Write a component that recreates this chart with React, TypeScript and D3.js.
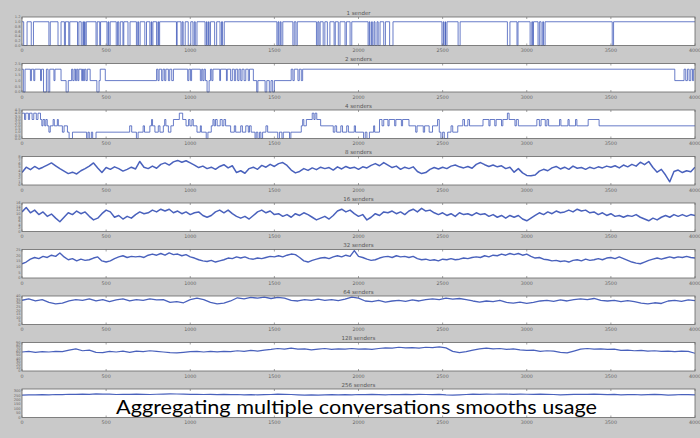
import React from "react";
import * as d3 from "d3";

const TITLES = ["1 sender", "2 senders", "4 senders", "8 senders", "16 senders", "32 senders", "64 senders", "128 senders", "256 senders"];
const X_TICKS = [0, 500, 1000, 1500, 2000, 2500, 3000, 3500, 4000];
const Y_MAX = [1.2, 2.5, 4.5, 8, 16, 25, 40, 90, 320];
const Y_STEP = [0.2, 0.5, 0.5, 1, 2, 5, 5, 10, 50];
const CAPTION = "Aggregating multiple conversations smooths usage";

// 1 sender: baseline 1, brief drops to 0 (intervals in time units)
const ONE_SENDER_DIPS = [
  [10, 30], [55, 68], [160, 168], [214, 232], [252, 258], [278, 284], [330, 338], [352, 362], [366, 372], [375, 382],
  [440, 447], [462, 467], [505, 512], [516, 524], [560, 568], [575, 584], [600, 605], [630, 642], [680, 688], [693, 702],
  [730, 740], [760, 768], [771, 778], [800, 808], [812, 818], [918, 922], [945, 952], [958, 970], [988, 1003], [1016, 1024],
  [1030, 1040], [1088, 1096], [1100, 1108], [1112, 1120], [1145, 1157], [1177, 1186], [1192, 1202], [1515, 1522], [1527, 1535],
  [1540, 1550], [1610, 1618], [1628, 1636], [1750, 1758], [1765, 1772], [1790, 1800], [1815, 1830], [1855, 1862], [1880, 1890],
  [1920, 1928], [1950, 1960], [2057, 2064], [2068, 2078], [2082, 2092], [2098, 2110], [2117, 2128], [2150, 2160], [2185, 2205],
  [2496, 2504], [2508, 2516], [2518, 2526], [2592, 2604], [2885, 2900], [2942, 2948], [3020, 3030], [3035, 3040], [3067, 3075],
  [3085, 3095], [3100, 3109], [3508, 3516],
];

// 2 senders: [time, level] change points
const TWO_SENDERS_STEPS = [
  [0, 2], [8, 0], [18, 2], [50, 1], [56, 2], [70, 1], [76, 2], [110, 1], [116, 2], [128, 0], [145, 2], [155, 0], [165, 2],
  [190, 1], [196, 2], [232, 1], [262, 0], [275, 1], [295, 2], [302, 1], [310, 2], [318, 1], [325, 2], [332, 1], [338, 2],
  [355, 1], [360, 2], [365, 1], [372, 2], [380, 1], [388, 2], [405, 1], [445, 0], [458, 1], [465, 2], [495, 1], [800, 2],
  [808, 1], [815, 2], [830, 1], [838, 2], [848, 1], [855, 2], [870, 1], [878, 2], [890, 1], [900, 2], [985, 1], [992, 2],
  [1002, 1], [1008, 2], [1060, 1], [1068, 2], [1075, 1], [1082, 2], [1090, 1], [1100, 0], [1112, 1], [1120, 2], [1128, 1],
  [1135, 2], [1175, 1], [1180, 2], [1215, 1], [1220, 2], [1240, 1], [1250, 2], [1262, 1], [1270, 2], [1282, 1], [1290, 2],
  [1300, 1], [1308, 2], [1320, 1], [1330, 2], [1345, 1], [1352, 2], [1375, 1], [1395, 0], [1402, 1], [1445, 0], [1455, 1],
  [1470, 0], [1480, 1], [1490, 0], [1500, 1], [1600, 2], [1610, 1], [1618, 2], [1640, 1], [1648, 2], [1660, 1], [1668, 2],
  [3880, 1], [3935, 2], [3945, 1], [3955, 2], [3965, 1], [3975, 2], [3985, 1], [3992, 2],
];

// 4 senders: [time, level] change points
const FOUR_SENDERS_STEPS = [
  [0, 4], [15, 3], [22, 4], [38, 3], [45, 4], [60, 3], [70, 4], [85, 3], [95, 4], [110, 3], [118, 2], [125, 3], [135, 2],
  [142, 3], [150, 2], [160, 1], [168, 2], [185, 3], [192, 2], [210, 3], [216, 2], [240, 1], [250, 2], [270, 1], [280, 0],
  [300, 1], [384, 0], [392, 1], [400, 0], [412, 1], [420, 0], [440, 1], [640, 2], [652, 1], [680, 0], [690, 1], [720, 2],
  [728, 1], [760, 2], [770, 3], [776, 2], [790, 1], [810, 2], [820, 1], [840, 2], [848, 3], [855, 2], [870, 1], [885, 2],
  [900, 3], [935, 4], [955, 3], [975, 2], [990, 3], [998, 2], [1010, 3], [1018, 2], [1040, 1], [1060, 2], [1066, 1],
  [1095, 0], [1105, 1], [1125, 2], [1135, 3], [1142, 2], [1150, 3], [1160, 2], [1178, 3], [1190, 2], [1200, 3], [1210, 2],
  [1240, 1], [1262, 2], [1270, 1], [1300, 2], [1310, 1], [1330, 2], [1345, 1], [1352, 2], [1362, 1], [1385, 0], [1392, 1],
  [1402, 0], [1412, 1], [1420, 0], [1430, 1], [1450, 2], [1460, 1], [1520, 0], [1530, 1], [1545, 0], [1553, 1], [1590, 0],
  [1598, 1], [1660, 2], [1668, 3], [1675, 2], [1690, 3], [1725, 4], [1735, 3], [1742, 4], [1752, 3], [1775, 2], [1850, 1],
  [1860, 2], [1870, 1], [1895, 2], [1905, 1], [1930, 2], [1940, 1], [1975, 2], [1982, 1], [2030, 0], [2040, 1], [2050, 0],
  [2065, 1], [2090, 2], [2096, 1], [2125, 3], [2140, 2], [2150, 3], [2175, 2], [2182, 3], [2215, 2], [2222, 3], [2255, 2],
  [2262, 3], [2300, 2], [2340, 1], [2348, 2], [2385, 1], [2393, 2], [2420, 1], [2440, 2], [2470, 3], [2480, 1], [2490, 0],
  [2500, 1], [2510, 0], [2530, 1], [2550, 2], [2560, 1], [2590, 2], [2620, 3], [2630, 2], [2650, 3], [2660, 2], [2740, 3],
  [2775, 2], [2782, 3], [2810, 2], [2818, 3], [2850, 2], [2858, 3], [2885, 4], [2895, 3], [2930, 2], [2938, 3], [2950, 2],
  [3060, 3], [3075, 2], [3085, 3], [3110, 2], [3120, 3], [3130, 2], [3195, 3], [3203, 2], [3245, 3], [3252, 2], [3290, 3],
  [3298, 2], [3365, 3], [3430, 2],
];

// sampled every 25 time units
const EIGHT_SENDERS = [
  3.5, 5.0, 4.3, 5.2, 4.5, 5.0, 5.6, 6.2, 5.4, 4.6, 3.9, 3.2, 3.6, 3.1, 4.0, 4.6, 5.3, 6.2, 4.8, 3.5,
  4.9, 4.4, 5.1, 4.6, 3.9, 4.4, 5.0, 4.5, 6.6, 5.0, 4.6, 5.3, 4.7, 5.8, 6.2, 5.6, 6.5, 6.9, 6.4, 6.8,
  6.2, 5.6, 4.9, 5.3, 4.6, 5.0, 4.4, 5.2, 5.7, 4.8, 5.4, 3.5, 4.0, 3.3, 4.6, 5.0, 4.4, 5.5, 5.0, 5.8,
  5.2, 6.0, 6.3, 5.5, 4.2, 3.4, 3.8, 4.6, 4.1, 4.8, 4.3, 5.0, 4.6, 4.9, 4.2, 5.1, 4.5, 5.2, 4.7, 5.0,
  4.4, 5.1, 4.8, 5.5, 6.0, 5.4, 6.3, 5.6, 4.9, 5.3, 4.4, 5.0, 4.6, 5.1, 3.8, 3.2, 3.5, 4.4, 4.9, 4.5,
  5.0, 4.6, 5.3, 5.6, 5.1, 4.8, 5.2, 4.7, 5.8, 6.3, 5.7, 5.2, 5.6, 5.1, 5.4, 4.6, 5.0, 3.6, 4.6, 3.4,
  2.7, 2.6, 2.8, 3.9, 4.4, 4.0, 4.8, 5.2, 4.5, 5.0, 4.4, 5.3, 4.7, 4.9, 4.4, 5.0, 4.6, 5.1, 4.8, 5.3,
  5.0, 5.4, 4.8, 5.6, 5.1, 5.8, 5.3, 6.4, 5.7, 6.6, 4.9, 3.6, 4.4, 2.8, 0.9, 3.8, 4.2, 3.5, 4.0, 3.7, 5.0,
];

const SIXTEEN_SENDERS = [
  11, 13.5, 10.5, 12, 9.5, 11, 8.5, 9.8, 7.5, 5.5, 8, 10.5, 9.5, 11.5, 10, 11, 8.5, 6.5, 7.5, 10,
  12, 11, 8, 9, 7, 8.5, 7.5, 9.5, 11, 10, 10.5, 12, 11, 12.5, 11.5, 12.5, 10.5, 11.5, 10, 11,
  9.5, 10.5, 11, 9, 8, 9, 11, 12, 10.5, 12, 10, 8.5, 7.5, 8.5, 7, 9, 11, 12, 10.5, 11.5,
  9.5, 10, 8.5, 9.5, 8, 10, 9, 10.5, 9.5, 8, 6.5, 7.5, 8.5, 7, 9, 11.5, 12.5, 11, 12, 10,
  8.5, 9.5, 6.5, 8, 10, 9, 11, 10.5, 11.5, 10, 11, 9.5, 11.5, 12.5, 11, 13, 11.5, 12, 10.5, 9.5,
  10.5, 9, 10, 8.5, 10.5, 9.5, 10, 9, 10.5, 9.5, 10, 8.5, 9.5, 8, 9, 7.5, 9, 8, 9, 7,
  6, 7.5, 9, 10.5, 9.5, 11, 10, 11.5, 10.5, 11, 12, 11, 12.5, 11.5, 12, 10.5, 11, 9.5, 10.5, 9,
  10, 8.5, 9, 8, 9, 8.5, 9.5, 8, 7, 6, 7.5, 6.5, 8, 9, 8, 9.5, 8.5, 9.5, 8.5, 9.5, 9,
];

const THIRTY_TWO_SENDERS = [
  12.5, 14, 16.5, 18, 17, 19, 18, 20, 19, 22, 18.5, 16, 17, 15, 16.5, 15.5, 16, 17.5, 18.5, 15,
  14, 15, 17, 18.5, 19.5, 18, 19, 18.5, 19, 18, 20, 21, 20, 21.5, 20, 22, 20.5, 21, 19.5, 20.5,
  18.5, 17.5, 16, 15, 14.5, 15.5, 14, 15, 16, 17.5, 17, 18.5, 17.5, 18.5, 17, 16.5, 17.5, 17, 18, 19,
  18.5, 19.5, 18.5, 20, 21, 20.5, 18, 15, 14, 15.5, 16.5, 17.5, 18, 17, 18.5, 19.5, 18.5, 20, 19, 24,
  19, 18, 16.5, 15.5, 16, 17.5, 18.5, 19, 18, 19.5, 18.5, 19, 18, 19, 17, 16, 16.5, 15.5, 16, 15,
  16.5, 16, 17, 16, 16.5, 17.5, 17, 18, 18.5, 18, 19.5, 18.5, 20, 19.5, 21, 20, 21.5, 20.5, 21.5, 20,
  21, 19, 17.5, 18, 16.5, 16, 15, 15.5, 14.5, 15, 14, 15.5, 16, 15, 16.5, 15.5, 16, 17, 16, 17.5,
  18, 17, 18.5, 17, 15.5, 14, 13, 12.5, 14, 15.5, 16.5, 17.5, 16.5, 17.5, 18.5, 17.5, 18.5, 18, 19, 18, 17.5,
];

// sampled every 40 time units
const SIXTY_FOUR_SENDERS = [
  34, 36, 33, 35, 31, 29, 30, 33, 35, 34, 36, 33, 35, 32, 34.5, 36, 33, 35, 34, 36,
  34.5, 35, 31, 32, 30.5, 35, 37, 35, 31, 29, 30, 33, 37.5, 36, 38, 37, 38.5, 36.5, 38, 37,
  34, 33, 35, 34, 35.5, 34, 35, 33.5, 35.5, 38.5, 37, 33, 32, 34, 31.5, 33, 34, 32.5, 34.5, 33,
  35, 36, 35, 37, 35.5, 36.5, 35, 33, 31.5, 33, 32, 34, 31, 30, 31.5, 29.5, 31, 33, 34, 32.5,
  34.5, 33, 35, 36, 35, 36.5, 34, 33, 34, 32, 33.5, 32, 30, 29, 30.5, 29.5, 33, 34, 32.5, 34.5, 33.5,
];

const ONE_TWENTY_EIGHT_SENDERS = [
  60, 62, 59, 61, 60, 62, 61, 66, 70, 64, 66, 59, 58, 62, 60, 63, 59, 63, 61, 64,
  62, 60, 58, 57, 59, 61, 62, 60, 62, 60.5, 62, 61, 64, 62, 65, 63, 66, 68, 71, 69,
  72, 69, 70, 67, 69, 71, 68, 70, 69, 71, 69, 70, 68, 71, 73, 72, 75, 73, 74, 72,
  75, 74, 76, 73, 62, 58, 61, 66, 70, 72, 70, 71, 68, 70, 67, 65, 66, 62, 64, 63,
  59, 57, 63, 69, 71, 69, 70, 68, 69, 65, 66, 64, 65, 63, 64, 62, 63, 61, 63, 62, 56,
];

const TWO_FIFTY_SIX_SENDERS = [
  252, 255, 253, 256, 255, 258, 257, 261, 259, 262, 260, 266, 263, 262, 258, 261, 259, 262, 260, 258,
  261, 263, 266, 264, 262, 259, 261, 258, 260, 257, 259, 256, 258, 255, 257, 254, 256, 258, 262, 260,
  258, 255, 252, 254, 251, 253, 256, 254, 257, 255, 258, 256, 259, 257, 255, 258, 256, 259, 257, 260,
  258, 256, 259, 253, 251, 255, 258, 262, 260, 263, 261, 264, 262, 260, 263, 261, 259, 262, 260, 258,
  255, 257, 259, 261, 259, 262, 260, 257, 259, 254, 256, 258, 255, 257, 259, 256, 252, 255, 258, 256, 254,
];

const T_MAX = 4000;

function stepsToPoints(steps: number[][]): [number, number][] {
  const pts: [number, number][] = steps.map((s) => [s[0], s[1]] as [number, number]);
  pts.push([T_MAX, steps[steps.length - 1][1]]);
  return pts;
}

function dipsToPoints(dips: number[][]): [number, number][] {
  const pts: [number, number][] = [[0, 1]];
  dips.forEach(([a, b]) => {
    pts.push([a, 0]);
    pts.push([b, 1]);
  });
  pts.push([T_MAX, 1]);
  return pts;
}

function sampled(values: number[]): [number, number][] {
  const n = values.length;
  return values.map((v, i) => [(i * T_MAX) / (n - 1), v] as [number, number]);
}

const SERIES: { pts: [number, number][]; step: boolean; width: number }[] = [
  { pts: dipsToPoints(ONE_SENDER_DIPS), step: true, width: 1.0 },
  { pts: stepsToPoints(TWO_SENDERS_STEPS), step: true, width: 1.0 },
  { pts: stepsToPoints(FOUR_SENDERS_STEPS), step: true, width: 1.0 },
  { pts: sampled(EIGHT_SENDERS), step: false, width: 1.5 },
  { pts: sampled(SIXTEEN_SENDERS), step: false, width: 1.5 },
  { pts: sampled(THIRTY_TWO_SENDERS), step: false, width: 1.4 },
  { pts: sampled(SIXTY_FOUR_SENDERS), step: false, width: 1.3 },
  { pts: sampled(ONE_TWENTY_EIGHT_SENDERS), step: false, width: 1.2 },
  { pts: sampled(TWO_FIFTY_SIX_SENDERS), step: false, width: 1.2 },
];

const W = 700;
const H = 438;
const LEFT = 22;
const RIGHT = 695;
const TOP0 = 17;
const GAP = 46.5;
const PH = 28.5;

function fmt(v: number, step: number) {
  return step < 1 ? v.toFixed(1) : String(Math.round(v));
}

export default function App() {
  const x = d3.scaleLinear().domain([0, T_MAX]).range([LEFT, RIGHT]);
  return (
    <div style={{ position: "fixed", left: 0, top: 0 }}>
      <svg width={W} height={H} style={{ display: "block" }}>
        <rect x={0} y={0} width={W} height={H} fill="#c9c9c9" />
        {SERIES.map((s, i) => {
          const top = TOP0 + i * GAP;
          const y = d3.scaleLinear().domain([0, Y_MAX[i]]).range([top + PH, top]);
          const line = d3
            .line<[number, number]>()
            .x((d) => x(d[0]))
            .y((d) => y(d[1]))
            .curve(s.step ? d3.curveStepAfter : d3.curveLinear);
          const yTicks = d3.range(0, Y_MAX[i] + 1e-9, Y_STEP[i]);
          return (
            <g key={i}>
              <rect x={LEFT} y={top} width={RIGHT - LEFT} height={PH} fill="#ffffff" />
              <clipPath id={`clip${i}`}>
                <rect x={LEFT} y={top - 1} width={RIGHT - LEFT} height={PH + 2} />
              </clipPath>
              <path
                d={line(s.pts) || ""}
                fill="none"
                stroke="#3550b5"
                strokeOpacity={s.step ? 0.75 : 0.9}
                strokeWidth={s.width}
                strokeLinejoin="round"
                clipPath={`url(#clip${i})`}
              />
              <rect x={LEFT} y={top} width={RIGHT - LEFT} height={PH} fill="none" stroke="#666" strokeWidth={0.8} />
              {X_TICKS.map((t) => (
                <g key={t}>
                  <line x1={x(t)} x2={x(t)} y1={top + PH} y2={top + PH - 2} stroke="#666" strokeWidth={0.6} />
                  <line x1={x(t)} x2={x(t)} y1={top} y2={top + 2} stroke="#666" strokeWidth={0.6} />
                  <text x={x(t)} y={top + PH + 6.5} fontSize={4.8} fill="#666" textAnchor="middle" fontFamily="DejaVu Sans">
                    {t}
                  </text>
                </g>
              ))}
              {yTicks.map((t) => (
                <text key={t} x={LEFT - 1.5} y={y(t) + 1.3} fontSize={3.6} fill="#666" textAnchor="end" fontFamily="DejaVu Sans">
                  {fmt(t, Y_STEP[i])}
                </text>
              ))}
              <text x={(LEFT + RIGHT) / 2} y={top - 2.2} fontSize={5.5} fill="#555" textAnchor="middle" fontFamily="DejaVu Sans">
                {TITLES[i]}
              </text>
            </g>
          );
        })}
        <text x={116} y={414} fontSize={20} fill="#000" fontFamily="Lato, 'Open Sans', sans-serif" textLength={481} lengthAdjust="spacingAndGlyphs">
          {CAPTION}
        </text>
      </svg>
    </div>
  );
}
